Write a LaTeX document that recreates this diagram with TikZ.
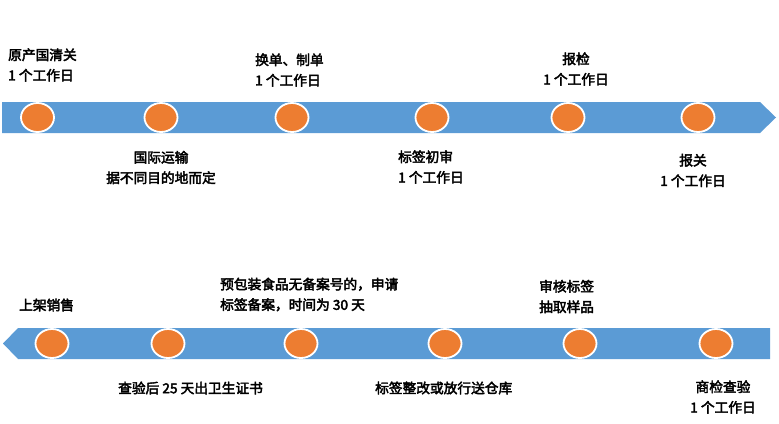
\documentclass[tikz,border=0pt]{standalone}
\usepackage{fontspec}
\setmainfont{Noto Sans CJK SC}[FakeBold=3]
\usepackage{tikz}
\usetikzlibrary{positioning, shapes.geometric}
\definecolor{band_blue}{HTML}{5B9BD5}
\definecolor{dot_orange}{HTML}{ED7D31}

\begin{document}
\begin{tikzpicture}[x=1pt, y=-1pt,
    dot/.style={ellipse, fill=dot_orange, draw=white, line width=1.8pt, minimum width=33pt, minimum height=29pt, inner sep=0pt},
    lbl/.style={font=\fontsize{13.7}{20.5}\selectfont, inner sep=0pt, align=left},
    lblc/.style={lbl, align=center}]
    \useasboundingbox (0,0) rectangle (779,423);

    \fill[band_blue] (2,102) -- (760,102) -- (776,117.5) -- (760,133) -- (2,133) -- cycle;
    \fill[band_blue] (18,328) -- (770,328) -- (770,359) -- (18,359) -- (3,343.5) -- cycle;

    \node (dot_origin) [dot] at (37.5,117.5) {};
    \node (dot_ship) [dot] at (161,117.5) {};
    \node (dot_docs) [dot] at (292,117.5) {};
    \node (dot_label) [dot] at (432,117.5) {};
    \node (dot_declare) [dot] at (568,117.5) {};
    \node (dot_customs) [dot] at (698,117.5) {};

    \node (dot_sale) [dot] at (52,343.5) {};
    \node (dot_cert) [dot] at (168,343.5) {};
    \node (dot_record) [dot] at (301,343.5) {};
    \node (dot_store) [dot] at (445,343.5) {};
    \node (dot_sample) [dot] at (580,343.5) {};
    \node (dot_check) [dot] at (716,343.5) {};

    \node (origin) [lbl, anchor=west] at (8,65) {原产国清关\\1 个工作日};
    \node (docs) [lbl, anchor=west] at (255,70) {换单、制单\\1 个工作日};
    \node (declare) [lblc] at (576,69) {报检\\1 个工作日};
    \node (ship) [lblc] at (161,167.5) {国际运输\\据不同目的地而定};
    \node (label) [lbl, anchor=west] at (398,167) {标签初审\\1 个工作日};
    \node (customs) [lblc] at (693,170.5) {报关\\1 个工作日};

    \node (sale) [lbl, anchor=west] at (19,305) {上架销售};
    \node (record) [lbl, anchor=west] at (220,294.5) {预包装食品无备案号的，申请\\标签备案，时间为 30 天};
    \node (cert) [lbl, anchor=west] at (118,388) {查验后 25 天出卫生证书};
    \node (store) [lbl, anchor=west] at (375,388) {标签整改或放行送仓库};
    \node (sample) [lbl, anchor=west] at (539,296.5) {审核标签\\抽取样品};
    \node (check) [lblc] at (723,397) {商检查验\\1 个工作日};
\end{tikzpicture}
\end{document}
